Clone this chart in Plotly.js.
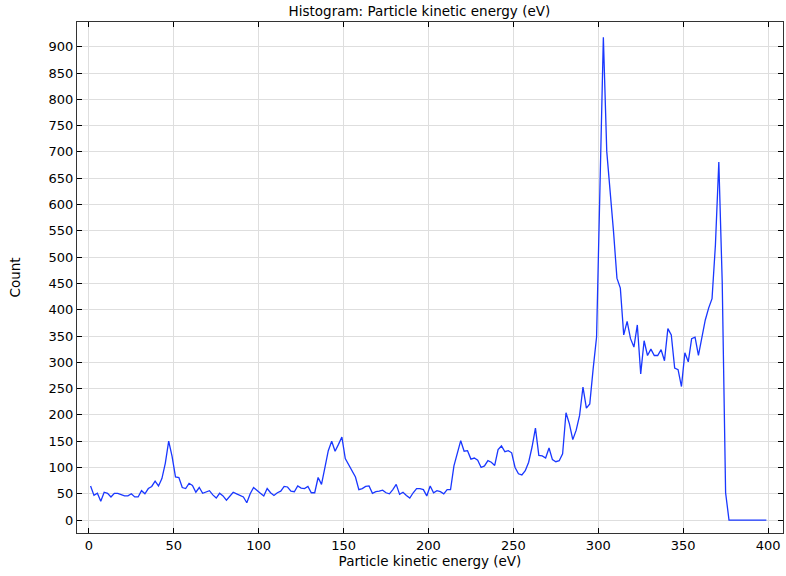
<!DOCTYPE html>
<html>
<head>
<meta charset="utf-8">
<script src="https://cdn.plot.ly/plotly-3.0.1.min.js"></script>
<style>html,body{margin:0;padding:0;background:#fff;}#chart{width:786px;height:576px;}</style>
</head>
<body>
<div id="chart"></div>
<script>
// Bin centres (eV)
const energy = [
  1,3,5,7,9,11,13,15,17,19,21,23,25,27,29,31,33,35,37,39,
  41,43,45,47,49,51,53,55,57,59,61,63,65,67,69,71,73,75,77,79,
  81,83,85,87,89,91,93,95,97,99,101,103,105,107,109,111,113,115,117,119,
  121,123,125,127,129,131,133,135,137,139,141,143,145,147,149,151,153,155,157,159,
  161,163,165,167,169,171,173,175,177,179,181,183,185,187,189,191,193,195,197,199,
  201,203,205,207,209,211,213,215,217,219,221,223,225,227,229,231,233,235,237,239,
  241,243,245,247,249,251,253,255,257,259,261,263,265,267,269,271,273,275,277,279,
  281,283,285,287,289,291,293,295,297,299,301,303,305,307,309,311,313,315,317,319,
  321,323,325,327,329,331,333,335,337,339,341,343,345,347,349,351,353,355,357,359,
  361,363,365,367,369,371,373,375,377,379,381,383,385,387,389,391,393,395,397,399
];
// Counts per bin
const counts = [
  65,47,51,36,53,51,44,51,51,48,46,46,50,44,44,56,50,60,64,74,
  65,79,108,150,121,82,81,62,60,70,66,53,62,51,53,56,48,42,51,46,
  38,46,53,50,47,44,33,50,62,56,51,46,60,52,47,52,55,64,63,55,
  54,65,61,60,64,52,52,81,68,100,132,150,131,144,158,117,105,93,82,58,
  60,64,65,51,54,55,57,52,50,58,68,49,53,47,42,52,60,60,58,46,
  65,52,56,54,50,58,58,103,129,151,131,132,116,118,114,100,103,113,110,104,
  134,141,130,132,128,100,88,86,94,110,139,175,123,122,118,137,115,111,113,126,
  204,183,153,171,199,253,213,221,288,348,632,918,701,631,548,460,441,352,378,345,
  329,371,278,341,313,325,313,313,324,303,364,352,289,286,254,318,301,345,348,313,
  345,380,403,421,523,681,453,52,0,0,0,0,0,0,0,0,0,0,0,0
];
const xTickVals = [0,50,100,150,200,250,300,350,400];
const yTickVals = [0,50,100,150,200,250,300,350,400,450,500,550,600,650,700,750,800,850,900];

const fontFam = 'DejaVu Sans, sans-serif';
const axisCommon = {
  showline: true, linecolor: '#333', linewidth: 1, mirror: 'ticks',
  ticks: 'inside', ticklen: 5, tickcolor: '#000', tickwidth: 1,
  showgrid: true, gridcolor: '#dedede', gridwidth: 1,
  zeroline: false, tickfont: {family: fontFam, size: 13, color: '#000'}
};

const trace = {
  x: energy, y: counts, type: 'scatter', mode: 'lines',
  line: {color: 'rgb(25,55,255)', width: 1.3},
  hoverinfo: 'x+y'
};

const layout = {
  width: 786, height: 576,
  margin: {l: 77, r: 3, t: 22, b: 43},
  paper_bgcolor: '#fff', plot_bgcolor: '#fff',
  showlegend: false,
  font: {family: fontFam, size: 13, color: '#000'},
  title: {text: 'Histogram: Particle kinetic energy (eV)', font: {family: fontFam, size: 13.5, color: '#000'},
          x: 0.485, xref: 'paper', y: 0.988, yref: 'container', yanchor: 'top'},
  xaxis: Object.assign({}, axisCommon, {
    range: [-7, 408.8], tickvals: xTickVals, ticktext: xTickVals.map(String),
    title: {text: 'Particle kinetic energy (eV)', font: {family: fontFam, size: 13.5, color: '#000'}, standoff: 2}
  }),
  yaxis: Object.assign({}, axisCommon, {
    range: [-24.5, 947], tickvals: yTickVals, ticktext: yTickVals.map(String),
    title: {text: 'Count', font: {family: fontFam, size: 13.5, color: '#000'}, standoff: 24}
  })
};

Plotly.newPlot('chart', [trace], layout, {displayModeBar: false, staticPlot: true});
</script>
</body>
</html>
